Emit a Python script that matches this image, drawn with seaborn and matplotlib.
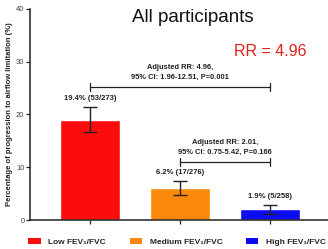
import matplotlib
matplotlib.use("Agg")
import matplotlib.pyplot as plt
import seaborn as sns
import pandas as pd
from matplotlib.patches import Patch

categories = ["Low FEV\u2081/FVC", "Medium FEV\u2081/FVC", "High FEV\u2081/FVC"]
values = [19.0, 6.0, 2.0]
errors = [2.4, 1.35, 0.9]
bar_labels = ["19.4% (53/273)", "6.2% (17/276)", "1.9% (5/258)"]
colors = ["#fb0d0d", "#fb8a0c", "#0d0df5"]
yticks = [0, 10, 20, 30, 40]
bracket1_text = "Adjusted RR: 4.96,\n95% CI: 1.96-12.51, P=0.001"
bracket2_text = "Adjusted RR: 2.01,\n95% CI: 0.75-5.42, P=0.166"

sns.set_style("ticks")
plt.rcParams['font.family'] = ['Liberation Sans', 'DejaVu Sans']

fig = plt.figure(figsize=(3.28, 2.49), dpi=100)
ax = fig.add_axes([30/328, 29/249, 298/328, 211/249])

df = pd.DataFrame({"cat": categories, "val": values})
sns.barplot(data=df, x="cat", y="val", hue="cat", palette=colors,
            width=0.667, legend=False, ax=ax, saturation=1)
ax.errorbar(range(3), values, yerr=errors, fmt="none", ecolor="#222222",
            elinewidth=1.0, capsize=5.2, capthick=1.0)

for i, (v, e, lab) in enumerate(zip(values, errors, bar_labels)):
    ax.text(i, v + e + 0.9, lab, ha="center", va="bottom", fontsize=5.5,
            fontweight="bold", color="#222222")

def bracket(x0, x1, y, text):
    ax.plot([x0, x1], [y, y], color="#222222", lw=0.9)
    for x in (x0, x1):
        ax.plot([x, x], [y - 0.7, y + 0.7], color="#222222", lw=0.9)
    ax.text((x0 + x1) / 2, y + 1.2, text, ha="center", va="bottom",
            fontsize=5.4, fontweight="bold", color="#222222", linespacing=1.45)

bracket(0, 2, 25.2, bracket1_text)
bracket(1, 2, 11.0, bracket2_text)

ax.set_xlim(-0.667, 2.64)
ax.set_ylim(0, 40)
ax.set_yticks(yticks)
ax.set_xticks([0, 1, 2])
ax.set_xticklabels([])
ax.set_xlabel("")
ax.set_ylabel("Percentage of progression to airflow limitation (%)",
              fontsize=5.5, fontweight="bold", color="#222222", labelpad=2)
ax.tick_params(axis="y", labelsize=5.5, length=3, width=0.9, labelcolor="#444444",
               color="#222222", pad=1)
ax.tick_params(axis="x", length=3, width=0.9, colors="#222222")
sns.despine(ax=ax)
for s in ("left", "bottom"):
    ax.spines[s].set_linewidth(1.1)
    ax.spines[s].set_color("#222222")

fig.text(193/328, 1 - 17/249, "All participants", ha="center", va="center",
         fontsize=13.5, color="#111111")
fig.text(270/328, 1 - 52/249, "RR = 4.96", ha="center", va="center",
         fontsize=11.5, color="#e0201f")

handles = [Patch(facecolor=c, edgecolor="none") for c in colors]
fig.legend(handles, categories, loc="center", bbox_to_anchor=(0.54, 1 - 242/249),
           ncol=3, frameon=False, prop={"size": 6, "weight": "bold"},
           handlelength=1.5, handleheight=0.6, columnspacing=2.8, handletextpad=0.9)

fig.savefig("out.png", dpi=100)
